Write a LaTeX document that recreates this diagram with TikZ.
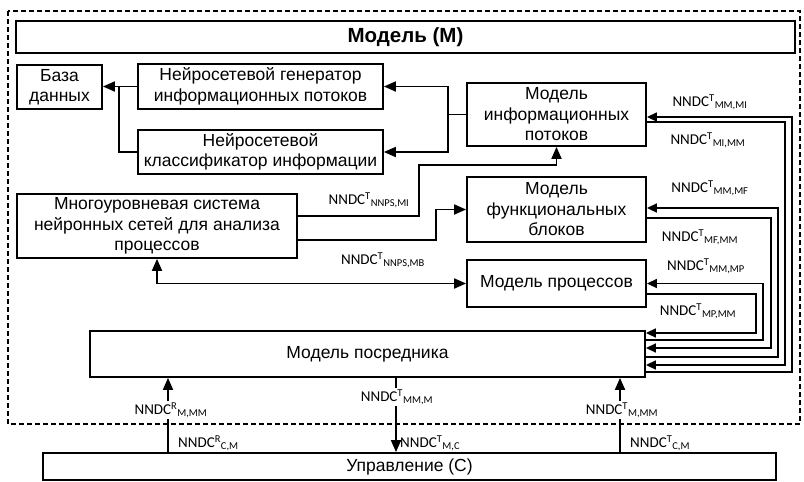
\documentclass[tikz,border=0pt]{standalone}
\usepackage{fontspec}
\setmainfont{Liberation Sans}
\newfontfamily\labfont{Carlito}
\usetikzlibrary{arrows.meta}

\newcommand\nndc[2]{NNDC\textsuperscript{#1}\textsubscript{#2}}

\begin{document}
\begin{tikzpicture}[x=1pt,y=-1pt,
  box/.style={draw, line width=1.8pt, align=center, inner sep=0pt,
    font=\fontsize{17.5}{20.5}\selectfont},
  conn/.style={line width=1.8pt},
  arr/.style={conn, -{Triangle[length=12pt,width=10pt]}},
  darr/.style={conn, {Triangle[length=12pt,width=10pt]}-{Triangle[length=12pt,width=10pt]}},
  bus/.style={line width=1.5pt},
  busarr/.style={bus, -{Triangle[length=10pt,width=9pt]}},
  lab/.style={font=\labfont\fontsize{15}{18}\selectfont, inner sep=1pt},
  labw/.style={lab, fill=white},
]
\useasboundingbox (0,0) rectangle (804,482);

% model boundary
\draw[line width=1.8pt, dash pattern=on 5pt off 3pt] (8,11) rectangle (800,424);

% boxes
\node[box, minimum width=779pt, minimum height=32pt,
  font=\bfseries\fontsize{20.5}{24}\selectfont] (title) at (405.5,37) {Модель (М)};
\node[box, minimum width=85pt, minimum height=44pt] (db) at (59.5,87) {База\\данных};
\node[box, minimum width=245pt, minimum height=45pt] (gen) at (260.5,86.5)
  {Нейросетевой генератор\\информационных потоков};
\node[box, minimum width=245pt, minimum height=44pt] (cls) at (260.5,152)
  {Нейросетевой\\классификатор информации};
\node[box, minimum width=179pt, minimum height=63pt] (mi) at (556.5,114.5)
  {Модель\\информационных\\потоков};
\node[box, minimum width=280pt, minimum height=64pt] (nnps) at (157,226)
  {Многоуровневая система\\нейронных сетей для анализа\\процессов};
\node[box, minimum width=179pt, minimum height=65pt] (mf) at (556.5,209.5)
  {Модель\\функциональных\\блоков};
\node[box, minimum width=179pt, minimum height=47pt] (mp) at (556.5,283.5)
  {Модель процессов};
\node[box, minimum width=555pt, minimum height=46pt] (mm) at (367.5,354)
  {Модель посредника};
\node[box, minimum width=733pt, minimum height=27pt] (ctl) at (409.5,466.5)
  {\raisebox{-3pt}{Управление (С)}};

% generator / classifier to database
\coordinate (jdb) at (119,86.5);
\draw[arr] (gen.west) -- (gen.west -| db.east);
\draw[conn] (cls.west) -| (jdb);

% information flows model to generator / classifier
\coordinate (jmi) at (448,114.5);
\draw[conn] (mi.west) -- (jmi);
\draw[arr] (jmi) |- (gen.east);
\draw[arr] (jmi) |- (cls.east);

% neural network system outputs
\coordinate (k1) at (419,165);
\draw[arr] ([yshift=10pt]nnps.east) -| (k1) -| (mi.south);
\coordinate (k2) at (436,209.5);
\draw[arr] ([yshift=-14pt]nnps.east) -| (k2) -- (mf.west);
\draw[darr] (mp.west) -| (nnps.south);

% bus between mediator model and the three models
\coordinate (v1) at (792,117);
\coordinate (v2) at (785,365);
\coordinate (v3) at (778,208);
\coordinate (v4) at (771,348);
\coordinate (v5) at (763,283.5);
\coordinate (v6) at (756,333);
\draw[busarr] ([yshift=-18pt]mm.east) -| (v1) -- ([yshift=-2.5pt]mi.east);
\draw[busarr] ([yshift=-7.5pt]mi.east) -| (v2) -- ([yshift=-11pt]mm.east);
\draw[busarr] ([yshift=-3pt]mm.east) -| (v3) -- ([yshift=1.5pt]mf.east);
\draw[busarr] ([yshift=-8.5pt]mf.east) -| (v4) -- ([yshift=6pt]mm.east);
\draw[busarr] ([yshift=14pt]mm.east) -| (v5) -- (mp.east);
\draw[busarr] ([yshift=-10.5pt]mp.east) -| (v6) -- ([yshift=21pt]mm.east);

% links to control
\coordinate (bl) at (168,0);
\coordinate (bc) at (396,0);
\coordinate (br) at (620,0);
\draw[arr] (bl |- ctl.north) -- (bl |- mm.south);
\draw[arr] (bc |- mm.south) -- (bc |- ctl.north);
\draw[arr] (br |- ctl.north) -- (br |- mm.south);

% labels
\node[lab] (l1) at (710,102) {\nndc{T}{MM,MI}};
\node[lab] (l2) at (708,140) {\nndc{T}{MI,MM}};
\node[lab] (l3) at (369,200) {\nndc{T}{NNPS,MI}};
\node[lab] (l4) at (383,260) {\nndc{T}{NNPS,MB}};
\node[lab] (l5) at (710,188) {\nndc{T}{MM,MF}};
\node[lab] (l6) at (700,237) {\nndc{T}{MF,MM}};
\node[lab] (l7) at (706,266) {\nndc{T}{MM,MP}};
\node[lab] (l8) at (698,311) {\nndc{T}{MP,MM}};
\node[labw] (l9) at (171,410) {\nndc{R}{M,MM}};
\node[labw] (l10) at (397,397) {\nndc{T}{MM,M}};
\node[labw] (l11) at (622,410) {\nndc{T}{M,MM}};
\node[lab, anchor=west] (l12) at (177,443) {\nndc{R}{C,M}};
\node[lab, anchor=west] (l13) at (399,443) {\nndc{T}{M,C}};
\node[lab, anchor=west] (l14) at (629,443) {\nndc{T}{C,M}};
\end{tikzpicture}
\end{document}
